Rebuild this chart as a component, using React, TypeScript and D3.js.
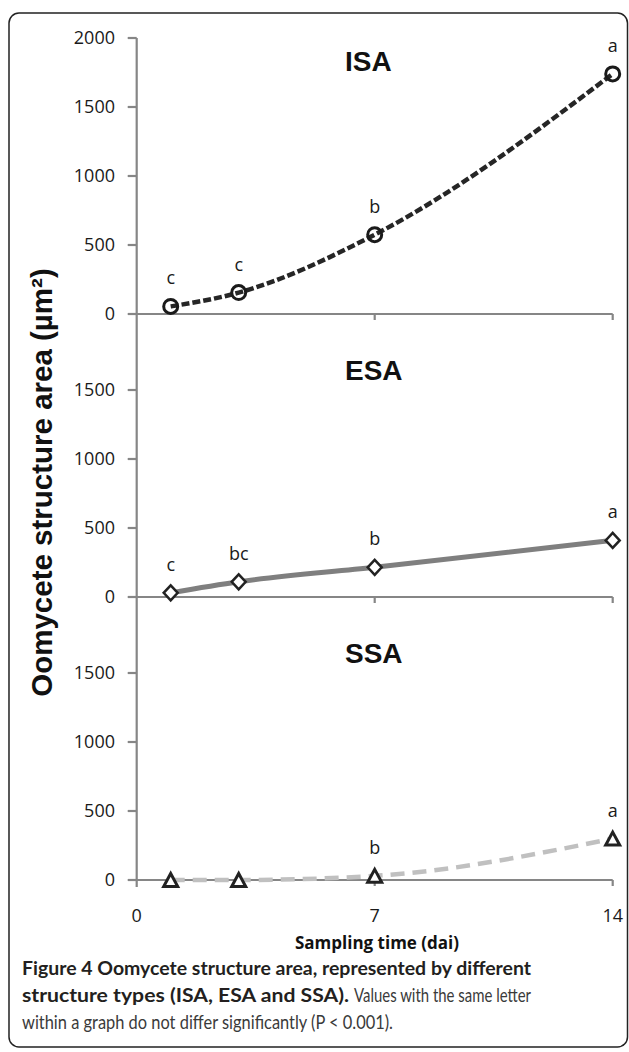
import React from "react";
import * as d3 from "d3";

// sampling days (dai) and mean structure areas (µm²) per structure type
const days = [1, 3, 7, 14];
const isaValues = [55, 155, 575, 1740];
const esaValues = [30, 110, 215, 410];
const ssaValues = [0, 0, 30, 300];

const isaLetters = ["c", "c", "b", "a"];
const esaLetters = ["c", "bc", "b", "a"];
const ssaLetters = ["", "", "b", "a"];

const panelNames = ["ISA", "ESA", "SSA"];
const xTicks = [0, 7, 14];
const topTicks = [0, 500, 1000, 1500, 2000];
const lowerTicks = [0, 500, 1000, 1500];

const W = 629;
const H = 1052;
const AXIS = "#868686";
const FONT = "'Open Sans', sans-serif";
const ARIAL = "'Liberation Sans', Arial, sans-serif";
const CAPTION = "Lato, sans-serif";

const x = d3.scaleLinear().domain([0, 14]).range([136.7, 612.7]);

const panelZero = (i: number) => 314 + i * 283;
const makeY = (i: number) =>
  d3.scaleLinear().domain([0, 2000]).range([panelZero(i), panelZero(i) - 276]);

const panels = [
  { values: isaValues, letters: isaLetters, ticks: topTicks, titleY: 71, marker: "circle", stroke: "#262626", dash: "8,3", width: 4.5 },
  { values: esaValues, letters: esaLetters, ticks: lowerTicks, titleY: 380, marker: "diamond", stroke: "#7f7f7f", dash: null, width: 5 },
  { values: ssaValues, letters: ssaLetters, ticks: lowerTicks, titleY: 663, marker: "triangle", stroke: "#c0c0c0", dash: "14,8", width: 4.5 },
];

const markerPath = (kind: string) => {
  if (kind === "diamond") return "M0,-7.5L7,0L0,7.5L-7,0Z";
  if (kind === "triangle") return "M0,-6.5L7,6.5L-7,6.5Z";
  return "";
};

function Panel({ p, i }: { p: any; i: number }) {
  const y = makeY(i);
  const line = d3
    .line<number>()
    .x((d, j) => x(days[j]))
    .y((d) => y(d))
    .curve(d3.curveMonotoneX);
  const zero = y(0);
  return (
    <g>
      {/* zero line with ticks below at 7 and 14 */}
      <line x1={x(0)} x2={x(14)} y1={zero} y2={zero} stroke={AXIS} strokeWidth={2.2} />
      {xTicks.slice(1).map((t) => (
        <line key={t} x1={x(t)} x2={x(t)} y1={zero} y2={zero + 6} stroke={AXIS} strokeWidth={2.2} />
      ))}
      {p.ticks.map((t: number) => (
        <g key={t}>
          <line x1={x(0) - 9} x2={x(0)} y1={y(t)} y2={y(t)} stroke={AXIS} strokeWidth={2.2} />
          <text x={115} y={y(t)} dy="0.36em" textAnchor="end" fontFamily={FONT} fontSize={18} fill="#1a1a1a">
            {t}
          </text>
        </g>
      ))}
      <text x={345} y={p.titleY} fontFamily={ARIAL} fontWeight="bold" fontSize={28} fill="#111">
        {panelNames[i]}
      </text>
      <path
        d={line(p.values) || ""}
        fill="none"
        stroke={p.stroke}
        strokeWidth={p.width}
        strokeDasharray={p.dash || undefined}
      />
      {p.values.map((v: number, j: number) => (
        <g key={j} transform={`translate(${x(days[j])},${y(v)})`}>
          {p.marker === "circle" ? (
            <circle r={7} fill="none" stroke="#1a1a1a" strokeWidth={3} />
          ) : (
            <path d={markerPath(p.marker)} fill="#fff" stroke="#222" strokeWidth={p.marker === "triangle" ? 3 : 2.5} />
          )}
          {p.letters[j] && (
            <text y={-22} textAnchor="middle" fontFamily={FONT} fontSize={18} fill="#1a1a1a">
              {p.letters[j]}
            </text>
          )}
        </g>
      ))}
    </g>
  );
}

export default function App() {
  return (
    <div style={{ position: "absolute", left: 0, top: 0 }}>
      <svg width={W} height={H} style={{ display: "block", background: "#fff" }}>
        <rect x={9} y={13} width={618.5} height={1034} rx={10} fill="#fff" stroke="#222" strokeWidth={1.5} />
        {/* continuous vertical axis */}
        <line x1={x(0)} x2={x(0)} y1={makeY(0)(2000)} y2={panelZero(2) + 7} stroke={AXIS} strokeWidth={2.2} />
        {panels.map((p, i) => (
          <Panel key={i} p={p} i={i} />
        ))}
        {xTicks.map((t) => (
          <text key={t} x={x(t)} y={916} dy="0.36em" textAnchor="middle" fontFamily={FONT} fontSize={18} fill="#1a1a1a">
            {t}
          </text>
        ))}
        <text x={377} y={949} textAnchor="middle" fontFamily={FONT} fontWeight="bold" fontSize={17} fill="#111">
          Sampling time (dai)
        </text>
        <text
          transform="translate(52,482.5) rotate(-90)"
          textAnchor="middle"
          fontFamily={ARIAL}
          fontWeight="bold"
          fontSize={29.5}
          fill="#111"
        >
          Oomycete structure area (µm²)
        </text>
        {/* caption */}
        <text x={22} y={975} fontFamily={CAPTION} fontWeight="bold" fontSize={19} fill="#231f20" textLength={509} lengthAdjust="spacingAndGlyphs">
          Figure 4 Oomycete structure area, represented by different
        </text>
        <text x={22} y={1002} fontFamily={CAPTION} fontWeight="bold" fontSize={19} fill="#231f20" textLength={327} lengthAdjust="spacingAndGlyphs">
          structure types (ISA, ESA and SSA).
        </text>
        <text x={354} y={1002} fontFamily={CAPTION} fontSize={19} fill="#3a3a3a" textLength={177} lengthAdjust="spacingAndGlyphs">
          Values with the same letter
        </text>
        <text x={22} y={1029} fontFamily={CAPTION} fontSize={19} fill="#3a3a3a" textLength={371} lengthAdjust="spacingAndGlyphs">
          within a graph do not differ significantly (P &lt; 0.001).
        </text>
      </svg>
    </div>
  );
}
